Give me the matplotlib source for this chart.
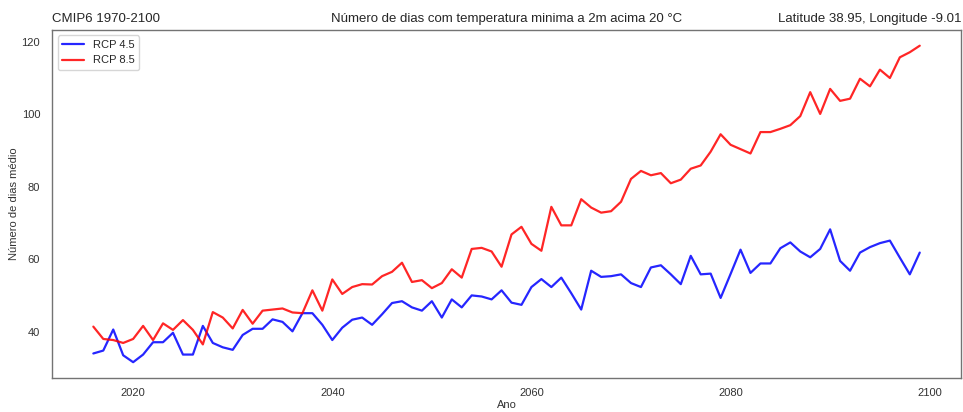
import numpy as np
import matplotlib
matplotlib.use('Agg')
import matplotlib.pyplot as plt
import seaborn as sns

# ---Annual number of days with Tmin > 20 °C, two scenarios
years = np.arange(2016, 2100)

rcp45 = [34.1, 34.9, 40.7, 33.6, 31.7, 33.8, 37.2, 37.2, 39.8, 33.8,
         33.8, 41.7, 37.0, 35.8, 35.1, 39.2, 40.9, 40.9, 43.5, 42.8,
         40.2, 45.2, 45.2, 42.0, 37.8, 41.2, 43.4, 44.0, 42.0, 44.9,
         48.0, 48.5, 46.8, 45.9, 48.5, 44.0, 49.0, 46.8, 50.1, 49.8,
         49.0, 51.5, 48.1, 47.5, 52.4, 54.6, 52.4, 55.0, 50.7, 46.2,
         56.9, 55.2, 55.4, 55.9, 53.5, 52.4, 57.8, 58.4, 55.9, 53.2,
         61.0, 55.9, 56.1, 49.4, 56.0, 62.7, 56.3, 58.9, 58.9, 63.1,
         64.7, 62.2, 60.6, 62.9, 68.3, 59.6, 56.9, 61.9, 63.4, 64.5,
         65.2, 60.5, 55.9, 61.9]

rcp85 = [41.5, 38.1, 37.8, 37.0, 38.1, 41.7, 37.8, 42.4, 40.6, 43.3,
         40.6, 36.6, 45.5, 44.0, 41.0, 46.1, 42.3, 45.9, 46.2, 46.5,
         45.4, 45.2, 51.5, 45.9, 54.5, 50.5, 52.4, 53.2, 53.1, 55.4,
         56.6, 59.1, 53.8, 54.3, 52.1, 53.5, 57.3, 55.0, 62.9, 63.2,
         62.2, 58.0, 66.9, 69.0, 64.3, 62.4, 74.5, 69.4, 69.4, 76.6,
         74.3, 72.9, 73.3, 75.9, 82.2, 84.4, 83.2, 83.8, 81.0, 82.0,
         85.0, 85.9, 89.7, 94.5, 91.6, 90.4, 89.2, 95.1, 95.1, 96.0,
         97.0, 99.5, 106.1, 100.1, 107.0, 103.7, 104.3, 109.8, 107.7, 112.3,
         110.0, 115.7, 117.1, 118.9]

sns.set_style('white')
plt.rcParams['font.family'] = ['Liberation Sans', 'DejaVu Sans']

fig = plt.figure(figsize=(9.63, 4.12), dpi=100)
ax = fig.add_axes([0.054, 0.0825, 0.944, 0.845])

ax.plot(years, rcp45, color='blue', alpha=0.85, lw=1.6, label='RCP 4.5')
ax.plot(years, rcp85, color='red', alpha=0.85, lw=1.6, label='RCP 8.5')

for sp in ax.spines.values():
    sp.set_color('0.45')
    sp.set_linewidth(1.0)

ax.set_xticks([2020, 2040, 2060, 2080, 2100])
ax.set_yticks([40, 60, 80, 100, 120])
ax.tick_params(axis='x', labelsize=8, labelcolor='0.2', pad=4)
ax.tick_params(axis='y', labelsize=8, labelcolor='0.2', pad=5)
ax.set_xlabel('Ano', fontsize=8, labelpad=1, color='0.2')
ax.set_ylabel('Número de dias médio', fontsize=8, labelpad=2, color='0.2')

ax.set_title('CMIP6 1970-2100', loc='left', fontsize=9.5, color='0.15')
ax.set_title('Número de dias com temperatura minima a 2m acima 20 °C', loc='center', fontsize=9.5, color='0.15')
ax.set_title('Latitude 38.95, Longitude -9.01', loc='right', fontsize=9.5, color='0.15')

ax.legend(loc='upper left', fontsize=8, frameon=True)

fig.savefig('out.png', dpi=100)
